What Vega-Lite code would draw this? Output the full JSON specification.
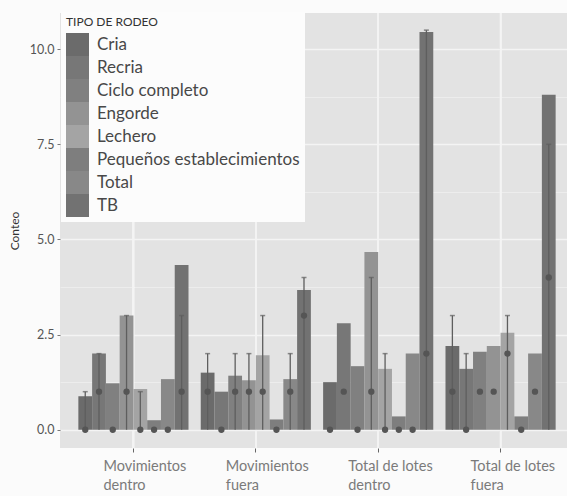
{
  "$schema": "https://vega.github.io/schema/vega-lite/v6.json",
  "width": 507,
  "height": 435,
  "autosize": {"type": "none"},
  "padding": {"left": 60, "top": 13, "right": 0, "bottom": 48},
  "background": "#fbfbfb",
  "config": {
    "font": "Lato",
    "view": {"fill": "#e3e3e3", "stroke": null}
  },
  "data": {
    "values": [
      {"grupo": "Movimientos dentro", "tipo": "Cria", "media": 0.88, "mediana": 0, "lo": 0, "hi": 1},
      {"grupo": "Movimientos dentro", "tipo": "Recria", "media": 2.0, "mediana": 1, "lo": 0, "hi": 2},
      {"grupo": "Movimientos dentro", "tipo": "Ciclo completo", "media": 1.22, "mediana": 0, "lo": null, "hi": null},
      {"grupo": "Movimientos dentro", "tipo": "Engorde", "media": 3.0, "mediana": 1, "lo": 0, "hi": 3},
      {"grupo": "Movimientos dentro", "tipo": "Lechero", "media": 1.07, "mediana": 0, "lo": 0, "hi": 1},
      {"grupo": "Movimientos dentro", "tipo": "Pequeños establecimientos", "media": 0.25, "mediana": 0, "lo": null, "hi": null},
      {"grupo": "Movimientos dentro", "tipo": "Total", "media": 1.33, "mediana": 0, "lo": null, "hi": null},
      {"grupo": "Movimientos dentro", "tipo": "TB", "media": 4.33, "mediana": 1, "lo": 0, "hi": 3},
      {"grupo": "Movimientos fuera", "tipo": "Cria", "media": 1.5, "mediana": 1, "lo": 0, "hi": 2},
      {"grupo": "Movimientos fuera", "tipo": "Recria", "media": 1.0, "mediana": 0, "lo": null, "hi": null},
      {"grupo": "Movimientos fuera", "tipo": "Ciclo completo", "media": 1.42, "mediana": 1, "lo": 0, "hi": 2},
      {"grupo": "Movimientos fuera", "tipo": "Engorde", "media": 1.3, "mediana": 1, "lo": 0, "hi": 2},
      {"grupo": "Movimientos fuera", "tipo": "Lechero", "media": 1.96, "mediana": 1, "lo": 0, "hi": 3},
      {"grupo": "Movimientos fuera", "tipo": "Pequeños establecimientos", "media": 0.27, "mediana": 0, "lo": null, "hi": null},
      {"grupo": "Movimientos fuera", "tipo": "Total", "media": 1.33, "mediana": 1, "lo": 0, "hi": 2},
      {"grupo": "Movimientos fuera", "tipo": "TB", "media": 3.67, "mediana": 3, "lo": 0, "hi": 4},
      {"grupo": "Total de lotes dentro", "tipo": "Cria", "media": 1.25, "mediana": 0, "lo": null, "hi": null},
      {"grupo": "Total de lotes dentro", "tipo": "Recria", "media": 2.8, "mediana": 1, "lo": null, "hi": null},
      {"grupo": "Total de lotes dentro", "tipo": "Ciclo completo", "media": 1.67, "mediana": 0, "lo": null, "hi": null},
      {"grupo": "Total de lotes dentro", "tipo": "Engorde", "media": 4.67, "mediana": 1, "lo": 0, "hi": 4},
      {"grupo": "Total de lotes dentro", "tipo": "Lechero", "media": 1.6, "mediana": 0, "lo": 0, "hi": 2},
      {"grupo": "Total de lotes dentro", "tipo": "Pequeños establecimientos", "media": 0.35, "mediana": 0, "lo": null, "hi": null},
      {"grupo": "Total de lotes dentro", "tipo": "Total", "media": 2.0, "mediana": 0, "lo": null, "hi": null},
      {"grupo": "Total de lotes dentro", "tipo": "TB", "media": 10.45, "mediana": 2, "lo": 0, "hi": 10.5},
      {"grupo": "Total de lotes fuera", "tipo": "Cria", "media": 2.2, "mediana": 1, "lo": 0, "hi": 3},
      {"grupo": "Total de lotes fuera", "tipo": "Recria", "media": 1.6, "mediana": 0, "lo": 0, "hi": 2},
      {"grupo": "Total de lotes fuera", "tipo": "Ciclo completo", "media": 2.05, "mediana": 1, "lo": null, "hi": null},
      {"grupo": "Total de lotes fuera", "tipo": "Engorde", "media": 2.2, "mediana": 1, "lo": null, "hi": null},
      {"grupo": "Total de lotes fuera", "tipo": "Lechero", "media": 2.55, "mediana": 2, "lo": 0, "hi": 3},
      {"grupo": "Total de lotes fuera", "tipo": "Pequeños establecimientos", "media": 0.35, "mediana": 0, "lo": null, "hi": null},
      {"grupo": "Total de lotes fuera", "tipo": "Total", "media": 2.0, "mediana": 1, "lo": null, "hi": null},
      {"grupo": "Total de lotes fuera", "tipo": "TB", "media": 8.8, "mediana": 4, "lo": 0, "hi": 7.5}
    ]
  },
  "encoding": {
    "x": {
      "field": "grupo",
      "type": "nominal",
      "sort": null,
      "title": null,
      "scale": {"paddingInner": 0.1, "paddingOuter": 0.15, "range": [0, 514]},
      "axis": {
        "labelAngle": 0,
        "labelAlign": "left",
        "labelOffset": -30,
        "labelBaseline": "top",
        "labelPadding": 7,
        "labelFontSize": 14.5,
        "labelColor": "#7a7a7a",
        "labelLineHeight": 19,
        "labelExpr": "[substring(datum.label, 0, lastindexof(datum.label, ' ')), substring(datum.label, lastindexof(datum.label, ' ') + 1)]",
        "domain": false,
        "ticks": true,
        "tickColor": "#666666",
        "tickSize": 4,
        "tickWidth": 1,
        "grid": false
      }
    }
  },
  "layer": [
    {
      "mark": {"type": "rule", "color": "#f4f4f4", "strokeWidth": 1.3},
      "encoding": {}
    },
    {
      "mark": {"type": "bar"},
      "encoding": {
        "xOffset": {
          "field": "tipo",
          "type": "nominal",
          "sort": ["Cria", "Recria", "Ciclo completo", "Engorde", "Lechero", "Pequeños establecimientos", "Total", "TB"],
          "scale": {"paddingInner": 0, "paddingOuter": 0}
        },
        "y": {
          "field": "media",
          "type": "quantitative",
          "title": "Conteo",
          "scale": {"domain": [-0.48, 10.95], "nice": false, "zero": false},
          "axis": {
            "values": [0, 1.25, 2.5, 3.75, 5, 6.25, 7.5, 8.75, 10],
            "labelExpr": "datum.value % 2.5 == 0 ? format(datum.value, '.1f') : ''",
            "labelFontSize": 12.5,
            "labelColor": "#555555",
            "labelPadding": 3,
            "tickSize": 3,
            "tickColor": "#777777",
            "tickOpacity": {"condition": {"test": "datum.value % 2.5 == 0", "value": 1}, "value": 0},
            "domain": false,
            "grid": true,
            "gridColor": "#f4f4f4",
            "gridWidth": {"condition": {"test": "datum.value % 2.5 == 0", "value": 1.3}, "value": 0.6},
            "titleFontSize": 12,
            "titleColor": "#333333",
            "titleFontWeight": "normal",
            "titlePadding": 8
          }
        },
        "y2": {"datum": 0},
        "color": {
          "field": "tipo",
          "type": "nominal",
          "title": "TIPO DE RODEO",
          "scale": {
            "domain": ["Cria", "Recria", "Ciclo completo", "Engorde", "Lechero", "Pequeños establecimientos", "Total", "TB"],
            "range": ["#6b6b6b", "#777777", "#808080", "#939393", "#a4a4a4", "#7e7e7e", "#888888", "#727272"]
          },
          "legend": {
            "orient": "none",
            "legendX": 1,
            "legendY": -1,
            "fillColor": "#fcfcfc",
            "padding": 5,
            "symbolType": "square",
            "symbolSize": 529,
            "symbolStrokeWidth": 0,
            "symbolOpacity": 1,
            "rowPadding": 0,
            "labelFontSize": 17,
            "labelLimit": 400,
            "labelColor": "#484848",
            "labelOffset": 8,
            "titleFontSize": 12,
            "titleFontWeight": "normal",
            "titleColor": "#333333",
            "titlePadding": 4
          }
        }
      }
    },
    {
      "transform": [{"filter": "datum.hi != null"}],
      "mark": {"type": "rule", "color": "#5e5e5e", "strokeWidth": 1.3},
      "encoding": {
        "xOffset": {
          "field": "tipo",
          "type": "nominal",
          "sort": ["Cria", "Recria", "Ciclo completo", "Engorde", "Lechero", "Pequeños establecimientos", "Total", "TB"]
        },
        "y": {"field": "lo", "type": "quantitative"},
        "y2": {"field": "hi"}
      }
    },
    {
      "transform": [{"filter": "datum.hi != null"}],
      "mark": {"type": "tick", "color": "#5e5e5e", "thickness": 1.5, "size": 5, "orient": "horizontal"},
      "encoding": {
        "xOffset": {
          "field": "tipo",
          "type": "nominal",
          "sort": ["Cria", "Recria", "Ciclo completo", "Engorde", "Lechero", "Pequeños establecimientos", "Total", "TB"]
        },
        "y": {"field": "hi", "type": "quantitative"}
      }
    },
    {
      "mark": {"type": "point", "filled": true, "color": "#555555", "size": 40, "opacity": 1},
      "encoding": {
        "xOffset": {
          "field": "tipo",
          "type": "nominal",
          "sort": ["Cria", "Recria", "Ciclo completo", "Engorde", "Lechero", "Pequeños establecimientos", "Total", "TB"]
        },
        "y": {"field": "mediana", "type": "quantitative"}
      }
    }
  ]
}
